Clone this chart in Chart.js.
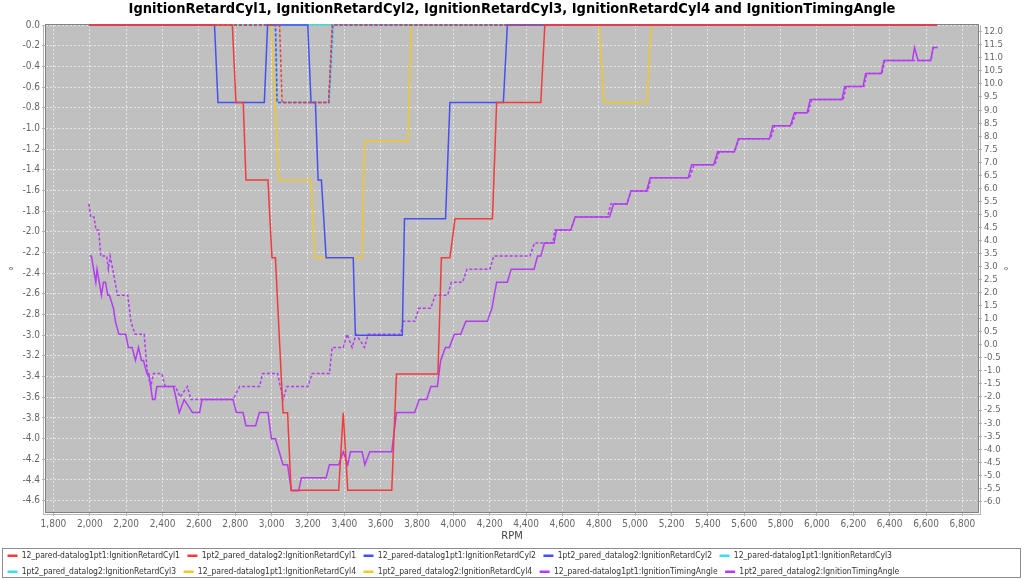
<!DOCTYPE html>
<html>
<head>
<meta charset="utf-8">
<title>IgnitionRetard and IgnitionTimingAngle</title>
<script src="https://cdn.jsdelivr.net/npm/chart.js@4.4.1/dist/chart.umd.min.js"></script>
<style>
  html, body { margin: 0; padding: 0; background: #fff; }
  #chart { display: block; }
</style>
</head>
<body>
<canvas id="chart" width="1024" height="580"></canvas>
<script>
// tick labels
const rpmTicks = [1800, 2000, 2200, 2400, 2600, 2800, 3000, 3200, 3400, 3600, 3800, 4000, 4200,
  4400, 4600, 4800, 5000, 5200, 5400, 5600, 5800, 6000, 6200, 6400, 6600, 6800]
const retardTicks = [0, -0.2, -0.4, -0.6, -0.8, -1.0, -1.2, -1.4, -1.6, -1.8, -2.0, -2.2, -2.4,
  -2.6, -2.8, -3.0, -3.2, -3.4, -3.6, -3.8, -4.0, -4.2, -4.4, -4.6]
const timingTicks = [12, 11.5, 11, 10.5, 10, 9.5, 9, 8.5, 8, 7.5, 7, 6.5, 6, 5.5, 5, 4.5, 4, 3.5,
  3, 2.5, 2, 1.5, 1, 0.5, 0, -0.5, -1, -1.5, -2, -2.5, -3, -3.5, -4, -4.5, -5, -5.5, -6]

// datalog1pt1 (solid)
const cyl1Log1Rpm = [2000, 2784, 2804, 2844, 2859, 2980, 3002, 3021, 3063, 3088, 3107, 3369, 3394,
  3419, 3661, 3687, 3915, 3934, 3981, 4009, 4215, 4238, 4481, 4503, 6660]
const cyl1Log1Deg = [0, 0, -0.75, -0.75, -1.5, -1.5, -2.25, -2.25, -3.75, -3.75, -4.5, -4.5, -3.75,
  -4.5, -4.5, -3.375, -3.375, -2.25, -2.25, -1.875, -1.875, -0.75, -0.75, 0, 0]

const cyl2Log1Rpm = [2000, 2686, 2705, 2960, 2978, 3199, 3217, 3241, 3256, 3274, 3300, 3449, 3461,
  3719, 3731, 3957, 3981, 4275, 4297, 6660]
const cyl2Log1Deg = [0, 0, -0.75, -0.75, 0, 0, -0.75, -0.75, -1.5, -1.5, -2.25, -2.25, -3,
  -3, -1.875, -1.875, -0.75, -0.75, 0, 0]

const cyl3Log1Rpm = [2000, 6660]
const cyl3Log1Deg = [0, 0]

const cyl4Log1Rpm = [2000, 2999, 3039, 3217, 3237, 3498, 3511, 3750, 3768, 4802, 4829, 5065, 5087, 6660]
const cyl4Log1Deg = [0, 0, -1.5, -1.5, -2.25, -2.25, -1.125, -1.125, 0, 0, -0.75, -0.75, 0, 0]

const timingLog1Rpm = [2000, 2009, 2033, 2040, 2064, 2075, 2086, 2099, 2108, 2130, 2141, 2160, 2198,
  2212, 2233, 2251, 2268, 2284, 2295, 2314, 2325, 2345, 2358, 2369, 2460, 2492, 2519, 2565, 2604,
  2617, 2788, 2806, 2843, 2859, 2912, 2933, 2980, 2999, 3021, 3063, 3088, 3109, 3149, 3164, 3300,
  3318, 3369, 3394, 3419, 3434, 3498, 3513, 3540, 3661, 3687, 3787, 3812, 3853, 3876, 3912, 3930,
  3956, 3978, 4005, 4040, 4069, 4187, 4212, 4238, 4297, 4318, 4444, 4463, 4481, 4501, 4554, 4567,
  4646, 4670, 4859, 4881, 4955, 4977, 5063, 5083, 5292, 5311, 5432, 5454, 5546, 5568, 5739, 5757,
  5854, 5876, 5946, 5963, 6138, 6152, 6253, 6268, 6354, 6369, 6525, 6537, 6556, 6626, 6639, 6663]
const timingLog1Deg = [3.4, 3.4, 2.4, 2.9, 1.9, 2.4, 2.4, 1.9, 1.9, 1.4, 0.9, 0.4, 0.4,
  -0.1, -0.1, -0.6, -0.1, -0.6, -0.6, -1.1, -1.1, -2.1, -2.1, -1.6, -1.6, -2.6, -2.1, -2.6, -2.6,
  -2.1, -2.1, -2.6, -2.6, -3.1, -3.1, -2.6, -2.6, -3.6, -3.6, -4.6, -4.6, -5.6, -5.6, -5.1, -5.1,
  -4.6, -4.6, -4.1, -4.6, -4.1, -4.1, -4.6, -4.1, -4.1, -2.6, -2.6, -2.1, -2.1, -1.6, -1.6, -0.6,
  -0.1, -0.1, 0.4, 0.4, 0.9, 0.9, 1.4, 2.4, 2.4, 2.9, 2.9, 3.4, 3.4, 3.9, 3.9, 4.4,
  4.4, 4.9, 4.9, 5.4, 5.4, 5.9, 5.9, 6.4, 6.4, 6.9, 6.9, 7.4, 7.4, 7.9, 7.9, 8.4,
  8.4, 8.9, 8.9, 9.4, 9.4, 9.9, 9.9, 10.4, 10.4, 10.9, 10.9, 11.4, 10.9, 10.9, 11.4, 11.4]

// datalog2 (dashed)
const cyl1Log2Rpm = [1995, 3044, 3058, 3314, 3333, 6660]
const cyl1Log2Deg = [0, 0, -0.75, -0.75, 0, 0]

const cyl2Log2Rpm = [1995, 3021, 3030, 3314, 3336, 6660]
const cyl2Log2Deg = [0, 0, -0.75, -0.75, 0, 0]

const cyl3Log2Rpm = [1995, 3024, 3032, 3318, 3342, 6660]
const cyl3Log2Deg = [0, 0, -0.75, -0.75, 0, 0]

const cyl4Log2Rpm = [1995, 6660]
const cyl4Log2Deg = [0, 0]

const timingLog2Rpm = [1995, 2005, 2023, 2034, 2049, 2060, 2093, 2102, 2112, 2126, 2152, 2209, 2226,
  2249, 2299, 2317, 2336, 2350, 2396, 2415, 2470, 2497, 2537, 2556, 2788, 2824, 2934, 2951, 3033,
  3063, 3085, 3199, 3223, 3318, 3333, 3394, 3416, 3443, 3465, 3511, 3531, 3709, 3726, 3788, 3810,
  3875, 3900, 3968, 3989, 4051, 4075, 4201, 4222, 4421, 4446, 4547, 4558, 4646, 4670, 4848, 4866,
  4955, 4977, 5069, 5087, 5298, 5325, 5439, 5462, 5546, 5572, 5745, 5767, 5858, 5886, 5952, 5971,
  6145, 6161, 6258, 6274, 6357, 6373, 6627, 6641, 6663]
const timingLog2Deg = [5.4, 4.9, 4.9, 4.4, 4.4, 3.4, 3.4, 2.9, 3.4, 2.9, 1.9, 1.9, 0.9,
  0.4, 0.4, -1.1, -1.6, -1.1, -1.1, -1.6, -1.6, -2.0, -1.6, -2.1, -2.1, -1.6, -1.6, -1.1, -1.1,
  -2.1, -1.6, -1.6, -1.1, -1.1, -0.1, -0.1, 0.4, -0.1, 0.4, -0.1, 0.4, 0.4, 0.9, 0.9, 1.4,
  1.4, 1.9, 1.9, 2.4, 2.4, 2.9, 2.9, 3.4, 3.4, 3.9, 3.9, 4.4, 4.4, 4.9, 4.9, 5.4,
  5.4, 5.9, 5.9, 6.4, 6.4, 6.9, 6.9, 7.4, 7.4, 7.9, 7.9, 8.4, 8.4, 8.9, 8.9, 9.4,
  9.4, 9.9, 9.9, 10.4, 10.4, 10.9, 10.9, 11.4, 11.4]

const red = "#f03c3c"
const blue = "#4650f0"
const cyan = "#3cdcf0"
const yellow = "#f0c828"
const purple = "#b43cf0"

Chart.defaults.font.family = "'DejaVu Sans Condensed', 'DejaVu Sans', sans-serif"

const pts = (xs, ys) => xs.map((x, i) => ({ x: x, y: ys[i] }))

const line = (label, xs, ys, color, dashed, axis) => ({
   label: label,
   data: pts(xs, ys),
   borderColor: color,
   backgroundColor: color,
   borderWidth: 1.5,
   borderDash: dashed ? [3, 2] : [],
   pointRadius: 0,
   pointStyle: "line",
   tension: 0,
   fill: false,
   clip: 3,
   yAxisID: axis,
})

const datasets = [
   line("12_pared-datalog1pt1:IgnitionRetardCyl1", cyl1Log1Rpm, cyl1Log1Deg, red, false, "y"),
   line("1pt2_pared_datalog2:IgnitionRetardCyl1", cyl1Log2Rpm, cyl1Log2Deg, red, true, "y"),
   line("12_pared-datalog1pt1:IgnitionRetardCyl2", cyl2Log1Rpm, cyl2Log1Deg, blue, false, "y"),
   line("1pt2_pared_datalog2:IgnitionRetardCyl2", cyl2Log2Rpm, cyl2Log2Deg, blue, true, "y"),
   line("12_pared-datalog1pt1:IgnitionRetardCyl3", cyl3Log1Rpm, cyl3Log1Deg, cyan, false, "y"),
   line("1pt2_pared_datalog2:IgnitionRetardCyl3", cyl3Log2Rpm, cyl3Log2Deg, cyan, true, "y"),
   line("12_pared-datalog1pt1:IgnitionRetardCyl4", cyl4Log1Rpm, cyl4Log1Deg, yellow, false, "y"),
   line("1pt2_pared_datalog2:IgnitionRetardCyl4", cyl4Log2Rpm, cyl4Log2Deg, yellow, true, "y"),
   line("12_pared-datalog1pt1:IgnitionTimingAngle", timingLog1Rpm, timingLog1Deg, purple, false, "y2"),
   line("1pt2_pared_datalog2:IgnitionTimingAngle", timingLog2Rpm, timingLog2Deg, purple, true, "y2"),
]

// grey plot area, frame, offset axis lines and the legend border
const plotFrame = {
   id: "plotFrame",
   beforeDraw(chart) {
      const { ctx, chartArea: a } = chart
      ctx.save()
      ctx.fillStyle = "#c0c0c0"
      ctx.fillRect(a.left, a.top, a.right - a.left, a.bottom - a.top)
      ctx.restore()
   },
   beforeDatasetsDraw(chart) {
      const { ctx, chartArea: a } = chart
      ctx.save()
      ctx.strokeStyle = "#808080"
      ctx.lineWidth = 1
      ctx.strokeRect(Math.round(a.left) - 0.5, Math.round(a.top) - 0.5,
         Math.round(a.right - a.left) + 1, Math.round(a.bottom - a.top) + 1)
      ctx.strokeStyle = "#b4b4b4"
      ctx.beginPath()
      ctx.moveTo(a.left - 2.5, a.top)
      ctx.lineTo(a.left - 2.5, a.bottom + 3)
      ctx.moveTo(a.left - 3, a.bottom + 2.5)
      ctx.lineTo(a.right + 3, a.bottom + 2.5)
      ctx.moveTo(a.right + 2.5, a.top)
      ctx.lineTo(a.right + 2.5, a.bottom + 3)
      ctx.stroke()
      ctx.restore()
   },
   afterDraw(chart) {
      const lg = chart.legend
      if (!lg || !lg.legendHitBoxes.length) return
      const boxes = lg.legendHitBoxes
      const top = Math.floor(Math.min(...boxes.map(b => b.top)) - 3.5) + 0.5
      const bottom = Math.floor(Math.max(...boxes.map(b => b.top + b.height)) + 1.5) + 0.5
      const ctx = chart.ctx
      ctx.save()
      ctx.strokeStyle = "#8c8c8c"
      ctx.lineWidth = 1
      ctx.strokeRect(2.5, top, chart.width - 6, bottom - top)
      ctx.restore()
   }
}

new Chart(document.getElementById("chart"), {
   type: "line",
   data: { datasets: datasets },
   plugins: [plotFrame],
   options: {
      responsive: false,
      animation: false,
      devicePixelRatio: 1,
      layout: { padding: { left: 0, right: 0, top: 0, bottom: -6 } },
      plugins: {
         title: {
            display: true,
            text: "IgnitionRetardCyl1, IgnitionRetardCyl2, IgnitionRetardCyl3, IgnitionRetardCyl4 and IgnitionTimingAngle",
            color: "#000",
            font: { size: 14.5, weight: "bold", lineHeight: 1.2 },
            padding: { top: 1, bottom: 6.6 },
         },
         legend: {
            position: "bottom",
            align: "start",
            labels: {
               usePointStyle: true,
               pointStyleWidth: 10,
               boxWidth: 10,
               padding: 7.5,
               color: "#333",
               font: { size: 8.5 },
               generateLabels: (chart) => Chart.defaults.plugins.legend.labels.generateLabels(chart)
                  .map(l => Object.assign(l, { lineWidth: 2.5 })),
            }
         },
         tooltip: { enabled: false },
      },
      scales: {
         x: {
            type: "linear",
            min: 1759,
            max: 6886,
            afterBuildTicks: s => { s.ticks = rpmTicks.map(v => ({ value: v })) },
            afterFit: s => { s.height = 32 },
            grid: {
               color: "rgba(255,255,255,0.6)",
               tickColor: "#b4b4b4",
               tickLength: 4,
            },
            border: { display: false, dash: [2, 2] },
            ticks: {
               autoSkip: false,
               maxRotation: 0,
               padding: 2,
               color: "#666",
               font: { size: 10 },
               callback: v => v.toLocaleString("en-US"),
            },
            title: {
               display: true,
               text: "RPM",
               color: "#444",
               font: { size: 11 },
               padding: { top: 0, bottom: 1.4 },
            },
         },
         y: {
            position: "left",
            min: -4.71,
            max: 0,
            afterBuildTicks: s => { s.ticks = retardTicks.map(v => ({ value: v })) },
            afterFit: s => { s.width = 46 },
            grid: {
               color: "rgba(255,255,255,0.6)",
               tickColor: "#b4b4b4",
               tickLength: 4,
            },
            border: { display: false, dash: [2, 2] },
            ticks: {
               autoSkip: false,
               padding: 2,
               color: "#666",
               font: { size: 10 },
               callback: v => v.toFixed(1),
            },
            title: {
               display: true,
               text: "°",
               color: "#555",
               font: { size: 11 },
               padding: { top: 8, bottom: 0 },
            },
         },
         y2: {
            position: "right",
            min: -6.41,
            max: 12.26,
            afterBuildTicks: s => { s.ticks = timingTicks.map(v => ({ value: v })) },
            afterFit: s => { s.width = 46 },
            grid: {
               drawOnChartArea: false,
               tickColor: "#b4b4b4",
               tickLength: 4,
            },
            border: { display: false },
            ticks: {
               autoSkip: false,
               padding: 2,
               color: "#666",
               font: { size: 9.5 },
               callback: v => v.toFixed(1),
            },
            title: {
               display: true,
               text: "°",
               color: "#555",
               font: { size: 11 },
               padding: { top: 15, bottom: 0 },
            },
         },
      },
   },
})
</script>
</body>
</html>
